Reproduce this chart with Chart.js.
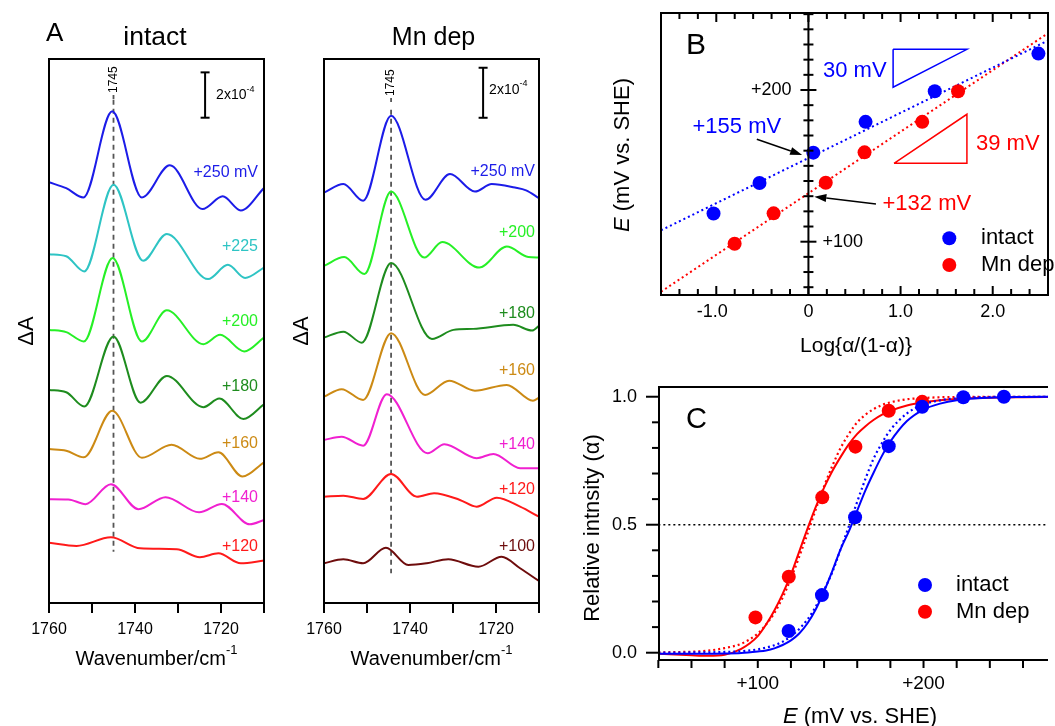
<!DOCTYPE html>
<html>
<head>
<meta charset="utf-8">
<script src="https://cdn.jsdelivr.net/npm/chart.js@4.4.1/dist/chart.umd.min.js"></script>
<style>
  html, body { margin: 0; padding: 0; background: #fff; }
  #figure { position: relative; width: 1055px; height: 726px; overflow: hidden; }
  #figure canvas { position: absolute; left: 0; top: 0; }
</style>
</head>
<body>
<div id="figure">
  <canvas id="spectra-intact" width="1055" height="726"></canvas>
  <canvas id="spectra-mndep" width="1055" height="726"></canvas>
  <canvas id="nernst-log" width="1055" height="726"></canvas>
  <canvas id="titration" width="1055" height="726"></canvas>
</div>
<script>
// ---- panel A: difference spectra (x = wavenumber, y = dA x1e4 incl. vertical offset) ----
const wavenumberTicks = [1760, 1750, 1740, 1730, 1720, 1710];
const wavenumberLabels = [1760, 1740, 1720];

const intact250 = [[1760, 18.56], [1756, 18.3], [1752, 17.89], [1745.3, 21.69], [1738.4, 17.89], [1731.9, 19.31], [1724.3, 17.38], [1719.6, 17.94], [1715.4, 17.32], [1710, 18.31]];
const intact225 = [[1760, 15.39], [1756, 15.3], [1751.8, 14.63], [1745, 18.45], [1738.1, 15.1], [1732.6, 16.28], [1723, 14.29], [1718.4, 14.92], [1714.4, 14.34], [1710, 14.8]];
const intact200 = [[1760, 12.05], [1756, 11.95], [1751.9, 11.54], [1745.2, 15.22], [1738.4, 11.54], [1732.6, 12.91], [1724.1, 11.42], [1720.2, 11.83], [1714.6, 11.1], [1710, 11.71]];
const intact180 = [[1760, 9.4], [1756, 9.3], [1751.8, 8.67], [1745, 11.76], [1738.7, 8.84], [1732.6, 10.02], [1724.1, 8.64], [1720.4, 9.02], [1714.8, 8.12], [1710, 8.77]];
const intact160 = [[1760, 6.79], [1756, 6.72], [1751.9, 6.43], [1745.3, 8.48], [1738.4, 6.41], [1731.5, 6.98], [1724.9, 6.36], [1720.6, 6.65], [1715, 5.58], [1710, 6.21]];
const intact140 = [[1760, 4.58], [1755.5, 4.57], [1751.5, 4.36], [1745.6, 5.24], [1739.2, 4.14], [1732.9, 4.67], [1725.1, 4.0], [1719.8, 4.37], [1713.3, 3.47], [1710, 3.66]];
const intact120 = [[1760, 2.66], [1753.6, 2.52], [1745.6, 2.9], [1738.8, 2.41], [1730.3, 2.37], [1724.9, 2.02], [1720.6, 2.19], [1715.4, 1.75], [1710, 1.87]];
const intactLabels = ["+250 mV", "+225", "+200", "+180", "+160", "+140", "+120"];
const intactPeakMark = [[1745, 22.2], [1745, 2.26]];

const mndep250 = [[1760, 16.41], [1755.5, 16.75], [1750.9, 16.08], [1744.4, 19.48], [1736.4, 16.12], [1730.7, 17.15], [1724.9, 16.45], [1721, 16.75], [1715.6, 16.61], [1713, 16.5], [1710, 16.19]];
const mndep200 = [[1760, 13.48], [1755.3, 13.83], [1750.6, 13.15], [1744.4, 16.45], [1736.7, 13.81], [1732.5, 14.43], [1723.9, 13.41], [1717.5, 14.25], [1712.5, 13.83], [1710, 13.81]];
const mndep180 = [[1760, 10.61], [1755.5, 10.85], [1751.2, 10.41], [1744.4, 13.59], [1734.9, 10.56], [1729.9, 10.92], [1725.3, 10.96], [1716, 11.12], [1711.6, 10.89], [1710, 11.08]];
const mndep160 = [[1760, 8.25], [1755.9, 8.55], [1750.9, 8.12], [1744.4, 10.79], [1736.5, 8.32], [1730.9, 8.89], [1724.9, 8.49], [1717.5, 8.72], [1711.4, 8.09], [1710, 8.21]];
const mndep140 = [[1760, 6.52], [1755.9, 6.65], [1750.9, 6.29], [1745.4, 8.35], [1735.9, 5.99], [1732, 6.35], [1724.5, 5.79], [1720.6, 5.96], [1714.4, 5.39], [1710, 5.39]];
const mndep120 = [[1760, 4.25], [1755.5, 4.29], [1750.9, 4.16], [1744.4, 5.16], [1738.4, 4.25], [1734.4, 4.39], [1728.4, 4.12], [1724.5, 3.85], [1719.8, 4.21], [1714.4, 3.85], [1710, 3.45]];
const mndep100 = [[1760, 1.59], [1755.5, 1.75], [1750.9, 1.59], [1745.6, 2.21], [1740.4, 1.52], [1736.1, 1.59], [1731.1, 1.75], [1724.1, 1.45], [1718.7, 1.85], [1714.4, 1.39], [1710, 0.88]];
const mndepLabels = ["+250 mV", "+200", "+180", "+160", "+140", "+120", "+100"];
const mndepPeakMark = [[1744.4, 19.72], [1744.4, 1.19]];

// ---- panel B: E vs log{a/(1-a)} ----
const logRatioTicks = [-1.6, -1.4, -1.2, -1.0, -0.8, -0.6, -0.4, -0.2, 0, 0.2, 0.4, 0.6, 0.8, 1.0, 1.2, 1.4, 1.6, 1.8, 2.0, 2.2, 2.4, 2.6];
const logRatioLabels = [-1, 0, 1, 2];
const potentialTicksB = [70, 80, 90, 100, 110, 120, 130, 140, 150, 160, 170, 180, 190, 200, 210, 220, 230, 240, 250];
const potentialLabelsB = [100, 200];

const potentialIntact = [118.6, 138.7, 158.7, 179.0, 199.2, 224.0, 248.5];
const potentialMnDep = [98.6, 118.7, 138.9, 158.9, 179.0, 199.2];
const logRatioIntact = [-1.03, -0.531, 0.053, 0.62, 1.371, 2.496];
const logRatioMnDep = [-0.801, -0.378, 0.188, 0.609, 1.235, 1.624];
const fitRangeB = [-1.6, 2.6];
const fitIntactB = [107.5, 232.6];
const fitMnDepB = [67.0, 237.4];
const slopeTriangleIntact = [[0.919, 226.8], [1.72, 226.8], [0.919, 201.8], [0.919, 226.8]];
const slopeTriangleMnDep = [[0.929, 151.7], [1.72, 151.7], [1.72, 184.0], [0.929, 151.7]];
const arrowIntact = [[-0.56, 167.5], [-0.068, 157.2]];
const arrowMnDep = [[0.733, 124.9], [0.064, 129.7]];

// ---- panel C: relative intensity vs E ----
const potentialTicksC = [40, 60, 80, 100, 120, 140, 160, 180, 200, 220, 240, 260];
const potentialLabelsC = [100, 200];
const alphaTicks = [0, 0.1, 0.2, 0.3, 0.4, 0.5, 0.6, 0.7, 0.8, 0.9, 1.0];
const alphaLabels = [0, 0.5, 1.0];
const alphaIntact = [0.085, 0.225, 0.529, 0.807, 0.961, 0.998, 1.0];
const alphaMnDep = [0.138, 0.297, 0.607, 0.805, 0.945, 0.98];
const curveE = [40, 60, 70, 80, 90, 100, 105, 110, 115, 120, 125, 130, 135, 140, 145, 150, 155, 160, 165, 170, 175, 180, 190, 200, 210, 220, 240, 260, 280];
const curveIntactFit = [-0.004, -0.004, -0.004, -0.003, -0.001, 0.005, 0.009, 0.017, 0.03, 0.048, 0.075, 0.115, 0.17, 0.24, 0.32, 0.405, 0.475, 0.555, 0.635, 0.705, 0.77, 0.825, 0.905, 0.95, 0.973, 0.986, 0.996, 0.999, 1.0];
const curveIntactN2 = [0.0, 0.001, 0.0015, 0.003, 0.006, 0.013, 0.02, 0.029, 0.043, 0.064, 0.093, 0.13, 0.18, 0.245, 0.315, 0.405, 0.495, 0.59, 0.68, 0.76, 0.82, 0.87, 0.935, 0.97, 0.986, 0.994, 0.999, 1.0, 1.0];
const curveMnDepFit = [-0.004, -0.01, -0.012, -0.008, 0.015, 0.065, 0.11, 0.165, 0.23, 0.305, 0.395, 0.485, 0.57, 0.645, 0.71, 0.765, 0.815, 0.855, 0.885, 0.91, 0.93, 0.945, 0.966, 0.978, 0.986, 0.991, 0.996, 0.998, 0.999];
const curveMnDepN2 = [0.001, 0.004, 0.008, 0.018, 0.035, 0.075, 0.11, 0.155, 0.215, 0.29, 0.375, 0.465, 0.56, 0.65, 0.73, 0.8, 0.855, 0.9, 0.93, 0.952, 0.968, 0.978, 0.99, 0.995, 0.998, 0.999, 1.0, 1.0, 1.0];
const midpointLineE = [40, 280];
const midpointLineAlpha = [0.5, 0.5];

const FONT = '"Liberation Sans", Arial, Helvetica, sans-serif';
const BLUE = "#0000ff";
const RED = "#ff0000";
const intactColors = ["#1c1ce8", "#2ec4c4", "#26f026", "#1e8c1e", "#cc8a14", "#f020d0", "#ff1a1a"];
const mndepColors = ["#1c1ce8", "#26f026", "#1e8c1e", "#cc8a14", "#f020d0", "#ff1a1a", "#6e0c0c"];

function font(size, style) {
  return (style ? style + " " : "") + size + "px " + FONT;
}

function drawRuns(ctx, runs, x, y, align) {
  let total = 0;
  runs.forEach((r) => {
    ctx.font = r.font;
    r.w = ctx.measureText(r.text).width;
    total += r.w;
  });
  let cx = align === "center" ? x - total / 2 : align === "right" ? x - total : x;
  ctx.textAlign = "left";
  ctx.textBaseline = "middle";
  runs.forEach((r) => {
    ctx.font = r.font;
    ctx.fillStyle = r.color || "#000";
    ctx.fillText(r.text, cx, y + (r.dy || 0));
    cx += r.w;
  });
}

function text(ctx, s, x, y, size, color, align, style) {
  drawRuns(ctx, [{ text: s, font: font(size, style), color: color }], x, y, align || "left");
}

function rotatedRuns(ctx, runs, x, y) {
  ctx.save();
  ctx.translate(x, y);
  ctx.rotate(-Math.PI / 2);
  drawRuns(ctx, runs, 0, 0, "center");
  ctx.restore();
}

function seg(ctx, x1, y1, x2, y2, width, color) {
  ctx.beginPath();
  ctx.strokeStyle = color || "#000";
  ctx.lineWidth = width;
  ctx.moveTo(x1, y1);
  ctx.lineTo(x2, y2);
  ctx.stroke();
}

function dot(ctx, x, y, r, color) {
  ctx.beginPath();
  ctx.fillStyle = color;
  ctx.arc(x, y, r, 0, Math.PI * 2);
  ctx.fill();
}

function arrow(ctx, xs, ys, pts) {
  const x1 = xs.getPixelForValue(pts[0][0]);
  const y1 = ys.getPixelForValue(pts[0][1]);
  const x2 = xs.getPixelForValue(pts[1][0]);
  const y2 = ys.getPixelForValue(pts[1][1]);
  const ang = Math.atan2(y2 - y1, x2 - x1);
  const len = 12;
  const half = 4;
  const bx = x2 - len * Math.cos(ang);
  const by = y2 - len * Math.sin(ang);
  seg(ctx, x1, y1, bx, by, 1.5);
  ctx.beginPath();
  ctx.fillStyle = "#000";
  ctx.moveTo(x2, y2);
  ctx.lineTo(bx + half * Math.sin(ang), by - half * Math.cos(ang));
  ctx.lineTo(bx - half * Math.sin(ang), by + half * Math.cos(ang));
  ctx.closePath();
  ctx.fill();
}

const baseOptions = {
  responsive: false,
  animation: false,
  events: [],
  plugins: { legend: { display: false }, tooltip: { enabled: false } }
};

function traceDataset(data, color) {
  return {
    data: data,
    borderColor: color,
    borderWidth: 2,
    pointRadius: 0,
    fill: false,
    cubicInterpolationMode: "monotone"
  };
}

function spectraChart(id, p) {
  const datasets = p.traces.map((t, i) => traceDataset(t, p.colors[i]));
  datasets.push({
    data: p.peakMark,
    borderColor: "#555",
    borderWidth: 1.8,
    borderDash: [5, 4],
    pointRadius: 0
  });

  new Chart(document.getElementById(id), {
    type: "line",
    data: { datasets: datasets },
    options: {
      ...baseOptions,
      layout: { padding: { left: p.left, top: 59, right: 1055 - p.right, bottom: 726 - 603 } },
      scales: {
        x: { type: "linear", reverse: true, min: 1710, max: 1760, display: false },
        y: { type: "linear", min: 0, max: p.yMax, display: false }
      }
    },
    plugins: [
      {
        id: "spectraDecor",
        afterDraw(chart) {
          const { ctx, chartArea: a, scales: { x, y } } = chart;
          ctx.save();
          ctx.strokeStyle = "#000";
          ctx.lineWidth = 2;
          ctx.strokeRect(a.left, a.top, a.right - a.left, a.bottom - a.top);
          wavenumberTicks.forEach((v) => {
            const px = x.getPixelForValue(v);
            seg(ctx, px, a.bottom, px, a.bottom + 10, 2);
          });
          wavenumberLabels.forEach((v) => text(ctx, String(v), x.getPixelForValue(v), a.bottom + 27, 16, "#000", "center"));
          const cx = (a.left + a.right) / 2;
          drawRuns(ctx, [
            { text: "Wavenumber/cm", font: font(20) },
            { text: "-1", font: font(13), dy: -9 }
          ], cx, a.bottom + 56, "center");
          rotatedRuns(ctx, [{ text: "\u0394A", font: font(22) }], a.left - 22, 331);
          text(ctx, p.title, cx + p.titleShift, 38, p.titleSize, "#000", "center");
          if (p.letter) text(ctx, p.letter, 46, 34, 26, "#000", "left");

          // scale bar 2x10^-4
          const bx = x.getPixelForValue(p.bar[0]);
          const by1 = y.getPixelForValue(p.bar[1]);
          const by2 = y.getPixelForValue(p.bar[1] - 2);
          seg(ctx, bx, by1, bx, by2, 2);
          seg(ctx, bx - 4.5, by1, bx + 4.5, by1, 2);
          seg(ctx, bx - 4.5, by2, bx + 4.5, by2, 2);
          drawRuns(ctx, [
            { text: "2x10", font: font(14) },
            { text: "-4", font: font(9), dy: -6 }
          ], bx + p.barTextDx, (by1 + by2) / 2 + p.barTextDy, "left");

          // peak position label
          const mx = x.getPixelForValue(p.peakMark[0][0]);
          ctx.save();
          ctx.translate(mx, p.peakTextY);
          ctx.rotate(-Math.PI / 2);
          ctx.font = font(12);
          ctx.fillStyle = "#000";
          ctx.textAlign = "left";
          ctx.textBaseline = "middle";
          ctx.fillText("1745", 0, 0);
          ctx.restore();
          seg(ctx, mx, p.peakTextY + 2, mx, p.peakTextY + 6, 1.8, "#555");

          p.labels.forEach((s, i) => text(ctx, s, a.right - p.labelInset, p.labelY[i], 16, p.colors[i], "right"));
          ctx.restore();
        }
      }
    ]
  });
}

spectraChart("spectra-intact", {
  traces: [intact250, intact225, intact200, intact180, intact160, intact140, intact120],
  colors: intactColors,
  labels: intactLabels,
  labelY: [172.7, 246.7, 321.7, 386.7, 444, 497.3, 546.7],
  labelInset: 6,
  peakMark: intactPeakMark,
  peakTextY: 93,
  yMax: 24,
  left: 49,
  right: 264,
  title: "intact",
  titleSize: 26.5,
  titleShift: -1.5,
  letter: "A",
  bar: [1723.7, 23.41],
  barTextDx: 11,
  barTextDy: 0
});

spectraChart("spectra-mndep", {
  traces: [mndep250, mndep200, mndep180, mndep160, mndep140, mndep120, mndep100],
  colors: mndepColors,
  labels: mndepLabels,
  labelY: [172, 233, 314, 371, 445, 490, 547],
  labelInset: 4,
  peakMark: mndepPeakMark,
  peakTextY: 96,
  yMax: 21.75,
  left: 324,
  right: 539,
  title: "Mn dep",
  titleSize: 25,
  titleShift: 2,
  letter: "",
  bar: [1723.0, 21.4],
  barTextDx: 6,
  barTextDy: -3
});

// ---- panel B ----
new Chart(document.getElementById("nernst-log"), {
  type: "line",
  data: {
    datasets: [
      { data: logRatioIntact.map((v, i) => [v, potentialIntact[i]]), showLine: false, pointRadius: 7, pointBackgroundColor: BLUE, pointBorderWidth: 0 },
      { data: logRatioMnDep.map((v, i) => [v, potentialMnDep[i]]), showLine: false, pointRadius: 7, pointBackgroundColor: RED, pointBorderWidth: 0 },
      { data: fitRangeB.map((v, i) => [v, fitIntactB[i]]), borderColor: BLUE, borderWidth: 2, borderDash: [2, 3], pointRadius: 0 },
      { data: fitRangeB.map((v, i) => [v, fitMnDepB[i]]), borderColor: RED, borderWidth: 2, borderDash: [2, 3], pointRadius: 0 },
      { data: slopeTriangleIntact, borderColor: BLUE, borderWidth: 1.5, pointRadius: 0 },
      { data: slopeTriangleMnDep, borderColor: RED, borderWidth: 1.5, pointRadius: 0 }
    ]
  },
  options: {
    ...baseOptions,
    layout: { padding: { left: 661, top: 13, right: 1, bottom: 431 } },
    scales: {
      x: { type: "linear", min: -1.6, max: 2.6, display: false },
      y: { type: "linear", min: 64.86, max: 250.76, display: false }
    }
  },
  plugins: [
    {
      id: "panelB",
      afterDraw(chart) {
        const { ctx, chartArea: a, scales: { x, y } } = chart;
        ctx.save();
        ctx.strokeStyle = "#000";
        ctx.lineWidth = 2;
        ctx.strokeRect(a.left, a.top, a.right - a.left, a.bottom - a.top);
        const x0 = x.getPixelForValue(0);
        seg(ctx, x0, a.top, x0, a.bottom, 2);
        logRatioTicks.forEach((v) => {
          const px = x.getPixelForValue(v);
          const r = Math.round(v * 10) / 10;
          const len = logRatioLabels.includes(r) ? 9 : 6;
          seg(ctx, px, a.bottom, px, a.bottom - len, 2);
          seg(ctx, px, a.top, px, a.top + len, 2);
        });
        potentialTicksB.forEach((v) => {
          const py = y.getPixelForValue(v);
          const half = potentialLabelsB.includes(v) ? 8 : 5;
          seg(ctx, x0 - half, py, x0 + half, py, 2);
        });
        logRatioLabels.forEach((v) => {
          const s = v === 0 ? "0" : (v < 0 ? "-" : "") + Math.abs(v).toFixed(1);
          const shift = v < 0 ? -4 : 0;
          text(ctx, s, x.getPixelForValue(v) + shift, 311.7, 18, "#000", "center");
        });
        text(ctx, "+200", x0 - 17, y.getPixelForValue(200), 18, "#000", "right");
        text(ctx, "+100", x0 + 14, y.getPixelForValue(100), 18, "#000", "left");
        text(ctx, "Log{\u03b1/(1-\u03b1)}", 856, 346, 21, "#000", "center");
        rotatedRuns(ctx, [
          { text: "E", font: font(22, "italic") },
          { text: " (mV vs. SHE)", font: font(22) }
        ], 623, 155);
        text(ctx, "B", 686, 46, 30, "#000", "left");

        text(ctx, "30 mV", 823, 70.5, 22, BLUE, "left");
        text(ctx, "39 mV", 976, 144, 22, RED, "left");
        text(ctx, "+155 mV", 692.5, 126.5, 22, BLUE, "left");
        text(ctx, "+132 mV", 882.5, 203.5, 22, RED, "left");
        arrow(ctx, x, y, arrowIntact);
        arrow(ctx, x, y, arrowMnDep);

        dot(ctx, 949.3, 238.3, 7, BLUE);
        dot(ctx, 949.3, 265, 7, RED);
        text(ctx, "intact", 981, 238.3, 22, "#000", "left");
        text(ctx, "Mn dep", 981, 265, 22, "#000", "left");
        ctx.restore();
      }
    }
  ]
});

// ---- panel C ----
new Chart(document.getElementById("titration"), {
  type: "line",
  data: {
    datasets: [
      { data: potentialIntact.map((v, i) => [v, alphaIntact[i]]), showLine: false, pointRadius: 7, pointBackgroundColor: BLUE, pointBorderWidth: 0 },
      { data: potentialMnDep.map((v, i) => [v, alphaMnDep[i]]), showLine: false, pointRadius: 7, pointBackgroundColor: RED, pointBorderWidth: 0 },
      { data: curveE.map((v, i) => [v, curveIntactFit[i]]), borderColor: BLUE, borderWidth: 2, pointRadius: 0, cubicInterpolationMode: "monotone" },
      { data: curveE.map((v, i) => [v, curveIntactN2[i]]), borderColor: BLUE, borderWidth: 2.2, borderDash: [2, 3], pointRadius: 0, cubicInterpolationMode: "monotone" },
      { data: curveE.map((v, i) => [v, curveMnDepFit[i]]), borderColor: RED, borderWidth: 2, pointRadius: 0, cubicInterpolationMode: "monotone" },
      { data: curveE.map((v, i) => [v, curveMnDepN2[i]]), borderColor: RED, borderWidth: 2.2, borderDash: [2, 3], pointRadius: 0, cubicInterpolationMode: "monotone" },
      { data: midpointLineE.map((v, i) => [v, midpointLineAlpha[i]]), borderColor: "#000", borderWidth: 1.5, borderDash: [2, 3], pointRadius: 0 }
    ]
  },
  options: {
    ...baseOptions,
    layout: { padding: { left: 659, top: 387, right: 0, bottom: 66 } },
    scales: {
      x: { type: "linear", min: 40.4, max: 275.1, display: false },
      y: { type: "linear", min: -0.0285, max: 1.038, display: false }
    }
  },
  plugins: [
    {
      id: "panelC",
      afterDraw(chart) {
        const { ctx, chartArea: a, scales: { x, y } } = chart;
        ctx.save();
        seg(ctx, a.left, a.top, a.right, a.top, 2);
        seg(ctx, a.left, a.top - 1, a.left, a.bottom + 1, 2);
        seg(ctx, a.left - 1, a.bottom, a.right, a.bottom, 2);
        alphaTicks.forEach((v) => {
          const py = y.getPixelForValue(v);
          const len = alphaLabels.includes(v) ? 13 : 7;
          seg(ctx, a.left, py, a.left - len, py, 2);
        });
        alphaLabels.forEach((v) => text(ctx, v.toFixed(1), a.left - 22, y.getPixelForValue(v), 18, "#000", "right"));
        potentialTicksC.forEach((v) => {
          const px = x.getPixelForValue(v);
          seg(ctx, px, a.bottom, px, a.bottom + 8, 2);
        });
        potentialLabelsC.forEach((v) => text(ctx, "+" + v, x.getPixelForValue(v), a.bottom + 23.5, 19, "#000", "center"));
        drawRuns(ctx, [
          { text: "E", font: font(22, "italic") },
          { text: " (mV vs. SHE)", font: font(22) }
        ], 860, 716.5, "center");
        rotatedRuns(ctx, [{ text: "Relative intnsity (\u03b1)", font: font(22) }], 593, 528);
        text(ctx, "C", 686, 420, 29, "#000", "left");
        dot(ctx, 925, 585, 7, BLUE);
        dot(ctx, 925, 611.7, 7, RED);
        text(ctx, "intact", 956, 585, 22, "#000", "left");
        text(ctx, "Mn dep", 956, 611.7, 22, "#000", "left");
        ctx.restore();
      }
    }
  ]
});
</script>
</body>
</html>
